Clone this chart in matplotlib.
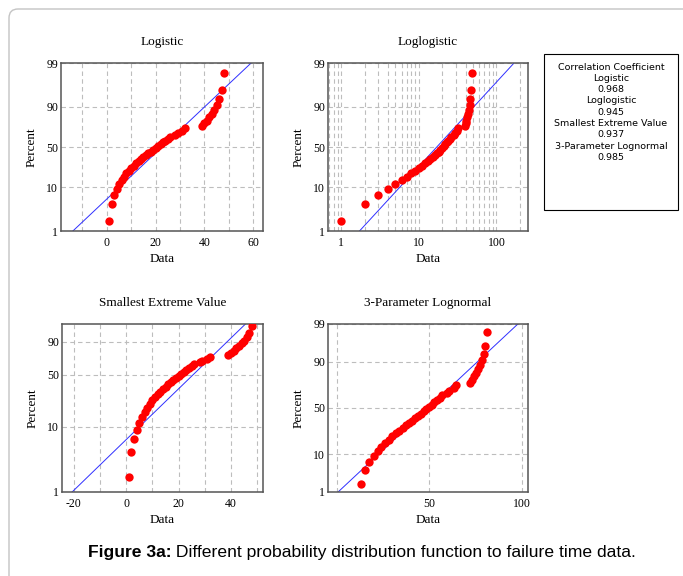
import math
from statistics import NormalDist
import numpy as np
import matplotlib
matplotlib.use('Agg')
import matplotlib.pyplot as plt
import matplotlib.patches as mpatches
from matplotlib.transforms import IdentityTransform
from matplotlib.ticker import FixedLocator, NullLocator, NullFormatter, LogLocator

W, H = 683, 576

# failure times (same sample in every panel) and their plotted percent
failure_time = [1, 2, 3, 4, 5, 6, 7, 8, 9, 10, 11, 12, 13, 14, 15, 16, 17, 18, 19, 20,
                21, 22, 23, 24, 25, 26, 28, 29, 31, 32, 39, 40, 41, 42, 43, 44, 45, 46, 47, 48]
percent = [1.73, 4.21, 6.68, 9.16, 11.63, 14.11, 16.58, 19.06, 21.53, 24.01,
           26.49, 28.96, 31.44, 33.91, 36.39, 38.86, 41.34, 43.81, 46.29, 48.76,
           51.24, 53.71, 56.19, 58.66, 61.14, 63.61, 66.09, 68.56, 71.04, 73.51,
           75.99, 78.47, 80.94, 83.42, 85.89, 88.37, 90.84, 93.32, 95.79, 98.27]

# fitted parameters
LOGISTIC_LOC, LOGISTIC_SCALE = 22.6, 7.95
LOGLOG_LOC10, LOGLOG_SCALE10 = 1.231, 0.2167
SEV_MU, SEV_SIGMA = 29.5, 10.9
LN3_THRESHOLD, LN3_MU10, LN3_SIGMA10 = -29.0, 1.695, 0.1252

corr_names = ['Logistic', 'Loglogistic', 'Smallest Extreme Value', '3-Parameter Lognormal']
corr_values = ['0.968', '0.945', '0.937', '0.985']

plt.rcParams['font.family'] = 'Liberation Serif'

_nd = NormalDist()
_inv = np.vectorize(_nd.inv_cdf, otypes=[float])
_erf = np.vectorize(math.erf, otypes=[float])


def _frac(p):
    return np.clip(np.asarray(p, dtype=float), 1e-7, 100 - 1e-7) / 100.0


def logit_fwd(p):
    f = _frac(p)
    return np.log(f / (1 - f))


def logit_inv(y):
    return 100.0 / (1 + np.exp(-np.asarray(y, dtype=float)))


def sev_fwd(p):
    f = _frac(p)
    return np.log(-np.log(1 - f))


def sev_inv(y):
    return 100.0 * (1 - np.exp(-np.exp(np.asarray(y, dtype=float))))


def norm_fwd(p):
    return _inv(_frac(p))


def norm_inv(y):
    return 50.0 * (1 + _erf(np.asarray(y, dtype=float) / math.sqrt(2)))


fig = plt.figure(figsize=(W / 100, H / 100), dpi=100)

border = mpatches.FancyBboxPatch((9, -20), 720, H - 9 + 20,
                                 boxstyle='round,pad=0,rounding_size=9',
                                 transform=IdentityTransform(),
                                 facecolor='none', edgecolor='#c4c4c4', linewidth=1.0)
fig.add_artist(border)


def add_panel(l, t, r, b):
    return fig.add_axes([l / W, 1 - b / H, (r - l) / W, (b - t) / H])


def style(ax, title):
    ax.set_title(title, fontsize=9.5, pad=13)
    ax.set_xlabel('Data', fontsize=9.5, labelpad=3)
    ax.set_ylabel('Percent', fontsize=9.5, labelpad=6)
    ax.tick_params(axis='x', length=0, labelsize=8.5, pad=4)
    ax.tick_params(axis='y', length=0, labelsize=8.5, pad=2)
    for s in ax.spines.values():
        s.set_color('#555555')
        s.set_linewidth(1.1)
    ax.grid(True, which='major', color='#bdbdbd', linestyle=(0, (4, 3)), linewidth=0.8)
    ax.set_axisbelow(True)


def draw(ax, x, y, fx, fy):
    ax.plot(fx, fy, color='#2f2fff', linewidth=0.7, zorder=2)
    ax.plot(x, y, 'o', color='#ff0000', markersize=6, markeredgewidth=0, zorder=3)


t = np.array(failure_time, dtype=float)
pct = np.array(percent)
line_p = np.array([0.5, 99.5])

# Logistic
ax1 = add_panel(61, 63, 263, 231)
ax1.set_yscale('function', functions=(logit_fwd, logit_inv))
fx = LOGISTIC_LOC + LOGISTIC_SCALE * logit_fwd(line_p)
draw(ax1, t, pct, fx, line_p)
ax1.set_xlim(-18.8, 64)
ax1.set_ylim(1, 99)
ax1.xaxis.set_major_locator(FixedLocator([-10, 0, 10, 20, 30, 40, 50, 60]))
ax1.set_xticklabels(['', '0', '', '20', '', '40', '', '60'])
ax1.yaxis.set_major_locator(FixedLocator([1, 10, 50, 90, 99]))
ax1.set_yticklabels(['1', '10', '50', '90', '99'])
ax1.yaxis.set_minor_locator(NullLocator())
style(ax1, 'Logistic')

# Loglogistic
ax2 = add_panel(328, 63, 528, 231)
ax2.set_xscale('log')
ax2.set_yscale('function', functions=(logit_fwd, logit_inv))
fx = 10 ** (LOGLOG_LOC10 + LOGLOG_SCALE10 * logit_fwd(line_p))
draw(ax2, t, pct, fx, line_p)
ax2.set_xlim(0.675, 255)
ax2.set_ylim(1, 99)
ax2.xaxis.set_major_locator(FixedLocator([1, 10, 100]))
ax2.xaxis.set_minor_locator(LogLocator(base=10, subs=range(2, 10)))
ax2.xaxis.set_minor_formatter(NullFormatter())
ax2.set_xticklabels(['1', '10', '100'])
ax2.yaxis.set_major_locator(FixedLocator([1, 10, 50, 90, 99]))
ax2.set_yticklabels(['1', '10', '50', '90', '99'])
ax2.yaxis.set_minor_locator(NullLocator())
style(ax2, 'Loglogistic')
ax2.tick_params(axis='x', which='minor', length=0)
ax2.grid(True, which='minor', axis='x', color='#bdbdbd', linestyle=(0, (4, 3)), linewidth=0.8)

# Smallest Extreme Value
ax3 = add_panel(62, 324, 263, 492)
ax3.set_yscale('function', functions=(sev_fwd, sev_inv))
fx = SEV_MU + SEV_SIGMA * sev_fwd(line_p)
draw(ax3, t, pct, fx, line_p)
ax3.set_xlim(-24.5, 52.2)
ax3.set_ylim(1, 98.7)
ax3.xaxis.set_major_locator(FixedLocator([-20, -10, 0, 10, 20, 30, 40, 50]))
ax3.set_xticklabels(['-20', '', '0', '', '20', '', '40', ''])
ax3.yaxis.set_major_locator(FixedLocator([1, 10, 50, 90]))
ax3.set_yticklabels(['1', '10', '50', '90'])
ax3.yaxis.set_minor_locator(NullLocator())
style(ax3, 'Smallest Extreme Value')

# 3-Parameter Lognormal (data - threshold on a log axis)
ax4 = add_panel(328, 324, 528, 492)
ax4.set_xscale('log')
ax4.set_yscale('function', functions=(norm_fwd, norm_inv))
fx = 10 ** (LN3_MU10 + LN3_SIGMA10 * norm_fwd(line_p))
draw(ax4, t - LN3_THRESHOLD, pct, fx, line_p)
ax4.set_xlim(23.5, 104.5)
ax4.set_ylim(1, 99)
ax4.xaxis.set_major_locator(FixedLocator([25.2, 50, 100]))
ax4.xaxis.set_minor_locator(NullLocator())
ax4.set_xticklabels(['', '50', '100'])
ax4.yaxis.set_major_locator(FixedLocator([1, 10, 50, 90, 99]))
ax4.set_yticklabels(['1', '10', '50', '90', '99'])
ax4.yaxis.set_minor_locator(NullLocator())
style(ax4, '3-Parameter Lognormal')

# correlation box
box = mpatches.Rectangle((544 / W, 1 - 210 / H), 134 / W, 156 / H, transform=fig.transFigure,
                         facecolor='white', edgecolor='black', linewidth=0.8)
fig.add_artist(box)
lines = ['Correlation Coefficient']
for n, v in zip(corr_names, corr_values):
    lines += [n, v]
y0 = 67
for i, s in enumerate(lines):
    fig.text(611 / W, 1 - (y0 + i * 11.3) / H, s, ha='center', va='center',
             fontsize=6.8, family='DejaVu Sans')

# caption: bold lead-in followed by regular text
cap_y = 1 - 553 / H
t1 = fig.text(0, cap_y, 'Figure 3a:', fontsize=12.6, weight='bold',
              family='Liberation Sans', va='center')
t2 = fig.text(0, cap_y, ' Different probability distribution function to failure time data.',
              fontsize=12.6, family='Liberation Sans', va='center')
fig.canvas.draw()
r = fig.canvas.get_renderer()
w1 = t1.get_window_extent(r).width
w2 = t2.get_window_extent(r).width
start = 362 - (w1 + w2) / 2
t1.set_x(start / W)
t2.set_x((start + w1) / W)

fig.savefig('out.png', dpi=100)
